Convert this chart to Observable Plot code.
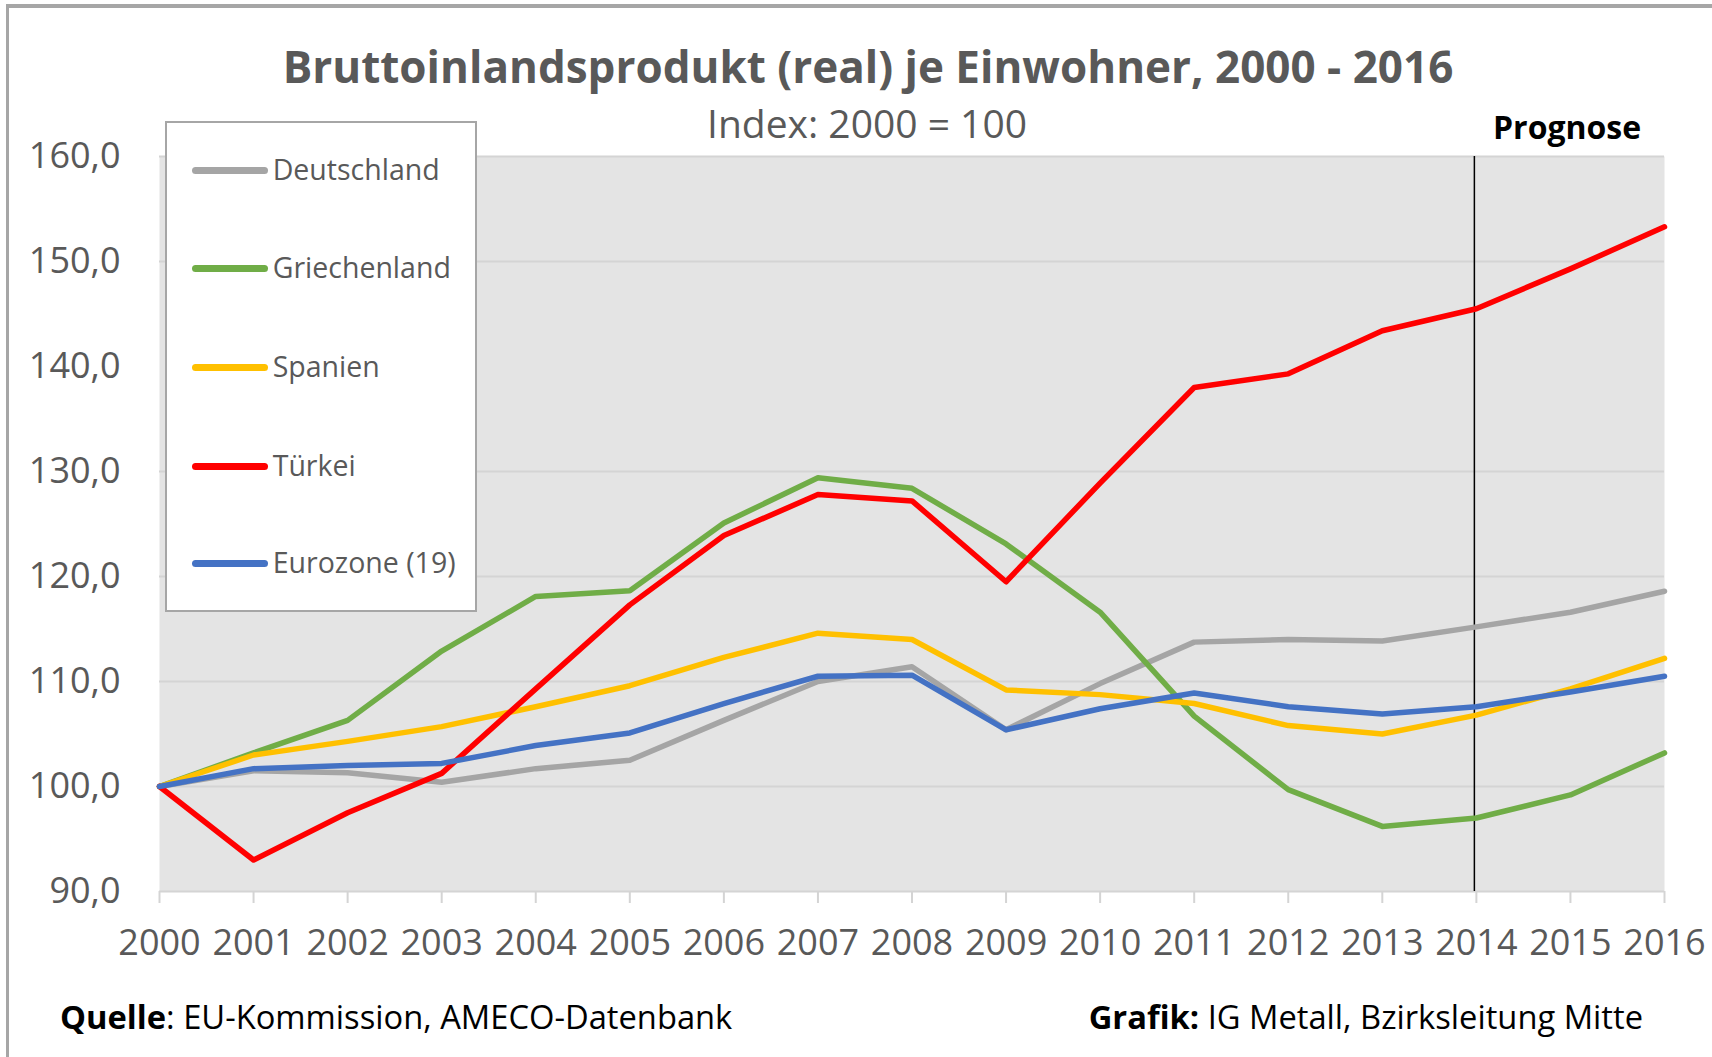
<!DOCTYPE html>
<html>
<head>
<meta charset="utf-8">
<script src="https://cdn.jsdelivr.net/npm/d3@7"></script>
<script src="https://cdn.jsdelivr.net/npm/@observablehq/plot@0.6"></script>
<style>
  html, body { margin: 0; padding: 0; background: #fff; }
  body { width: 1712px; height: 1057px; position: relative; overflow: hidden; font-family: "Open Sans", sans-serif; }
  #border { position: absolute; left: 6px; top: 4px; width: 1800px; height: 1200px; border-left: 3px solid #a6a6a6; border-top: 4px solid #a6a6a6; box-sizing: border-box; }
  #chart { position: absolute; left: 0; top: 0; }
  .txt { position: absolute; white-space: nowrap; line-height: 1; }
  #title { left: 868px; top: 44px; transform: translateX(-50%); font-size: 44px; font-weight: 700; color: #595959; }
  #subtitle { left: 867px; top: 103px; transform: translateX(-50%); font-size: 39px; color: #595959; }
  #prognose { left: 1493px; top: 111px; font-size: 32px; font-weight: 700; color: #000; }
  #legend { position: absolute; left: 165px; top: 121px; width: 312px; height: 491px; box-sizing: border-box; border: 2px solid #a6a6a6; background: #fff; }
  .sw { position: absolute; height: 7px; border-radius: 3.5px; }
  .lt { position: absolute; white-space: nowrap; line-height: 1; font-size: 28.5px; color: #595959; }
  #quelle { left: 60px; top: 1001px; font-size: 32.7px; color: #000; }
  #grafik { right: 69px; top: 1001px; font-size: 32.7px; color: #000; }
</style>
</head>
<body>
<div id="border"></div>
<div id="chart"></div>
<div id="title" class="txt">Bruttoinlandsprodukt (real) je Einwohner, 2000 - 2016</div>
<div id="subtitle" class="txt">Index: 2000 = 100</div>
<div id="prognose" class="txt">Prognose</div>
<div id="legend"></div>
<div id="quelle" class="txt"><b>Quelle</b>: EU-Kommission, AMECO-Datenbank</div>
<div id="grafik" class="txt"><b>Grafik:</b> IG Metall, Bzirksleitung Mitte</div>
<script>
const years = [2000, 2001, 2002, 2003, 2004, 2005, 2006, 2007, 2008, 2009, 2010, 2011, 2012, 2013, 2014, 2015, 2016];
const deutschland = [100, 101.5, 101.3, 100.4, 101.7, 102.5, 106.3, 110.0, 111.4, 105.4, 109.8, 113.75, 114.0, 113.85, 115.2, 116.6, 118.6];
const griechenland = [100, 103.2, 106.3, 112.9, 118.1, 118.65, 125.1, 129.4, 128.4, 123.1, 116.6, 106.7, 99.7, 96.2, 97.0, 99.2, 103.2];
const spanien = [100, 103.0, 104.3, 105.7, 107.6, 109.6, 112.3, 114.6, 114.0, 109.2, 108.75, 107.9, 105.8, 105.0, 106.8, 109.3, 112.2];
const tuerkei = [100, 93.0, 97.5, 101.25, 109.3, 117.3, 123.9, 127.8, 127.2, 119.5, 128.9, 138.0, 139.3, 143.4, 145.5, 149.3, 153.3];
const eurozone = [100, 101.7, 102.0, 102.2, 103.9, 105.1, 107.9, 110.5, 110.6, 105.4, 107.4, 108.9, 107.6, 106.9, 107.6, 109.0, 110.5];

const seriesNames = ["Deutschland", "Griechenland", "Spanien", "Türkei", "Eurozone (19)"];
const seriesValues = [deutschland, griechenland, spanien, tuerkei, eurozone];
const seriesColors = ["#a5a5a5", "#70ad47", "#ffc000", "#ff0000", "#4472c4"];

const yTicks = [90, 100, 110, 120, 130, 140, 150, 160];
const gridValues = [100, 110, 120, 130, 150, 160];
const baselineValue = [90];
const prognoseYear = [2014];

const table = [];
seriesNames.forEach((name, i) => {
  years.forEach((yr, j) => table.push({ series: name, year: yr, value: seriesValues[i][j] }));
});

const chart = Plot.plot({
  width: 1712,
  height: 1000,
  marginLeft: 159,
  marginRight: 48,
  marginTop: 156,
  marginBottom: 109,
  style: { fontFamily: "Open Sans", background: "transparent", overflow: "visible" },
  x: { domain: [years[0], years[years.length - 1]], label: null },
  y: { domain: [yTicks[0], yTicks[yTicks.length - 1]], label: null },
  color: { domain: seriesNames, range: seriesColors },
  marks: [
    Plot.frame({ fill: "#e4e4e4", stroke: null }),
    Plot.ruleY(gridValues, { stroke: "#d4d4d4", strokeWidth: 2 }),
    Plot.ruleY(baselineValue, { stroke: "#d4d4d4", strokeWidth: 2 }),
    Plot.axisY(yTicks, {
      tickSize: 0, tickPadding: 39, fontSize: 36, fill: "#595959",
      tickFormat: d => d.toFixed(1).replace(".", ","), label: null
    }),
    Plot.axisX(years, {
      tickSize: 12, tickPadding: 26, stroke: "#d4d4d4", strokeWidth: 2,
      fontSize: 36, fill: "#595959", tickFormat: d => String(d), label: null
    }),
    Plot.ruleX(prognoseYear, { stroke: "#000", strokeWidth: 1.5, dx: -2 }),
    Plot.line(table, { x: "year", y: "value", z: "series", stroke: "series", strokeWidth: 5.5, strokeLinejoin: "round", strokeLinecap: "round" })
  ]
});
document.getElementById("chart").appendChild(chart);

// Legend
const legend = document.getElementById("legend");
const rowCenters = [49, 147, 246, 345, 442];
seriesNames.forEach((name, i) => {
  const sw = document.createElement("div");
  sw.className = "sw";
  sw.style.left = (191.7 - 165 - 2) + "px";
  sw.style.width = "76px";
  sw.style.top = (rowCenters[i] - 2 - 3.5) + "px";
  sw.style.background = seriesColors[i];
  legend.appendChild(sw);
  const t = document.createElement("div");
  t.className = "lt";
  t.textContent = name;
  t.style.left = (272.7 - 165 - 2) + "px";
  t.style.top = (rowCenters[i] - 2 + 10.7 - 25.3) + "px";
  legend.appendChild(t);
});
</script>
</body>
</html>
